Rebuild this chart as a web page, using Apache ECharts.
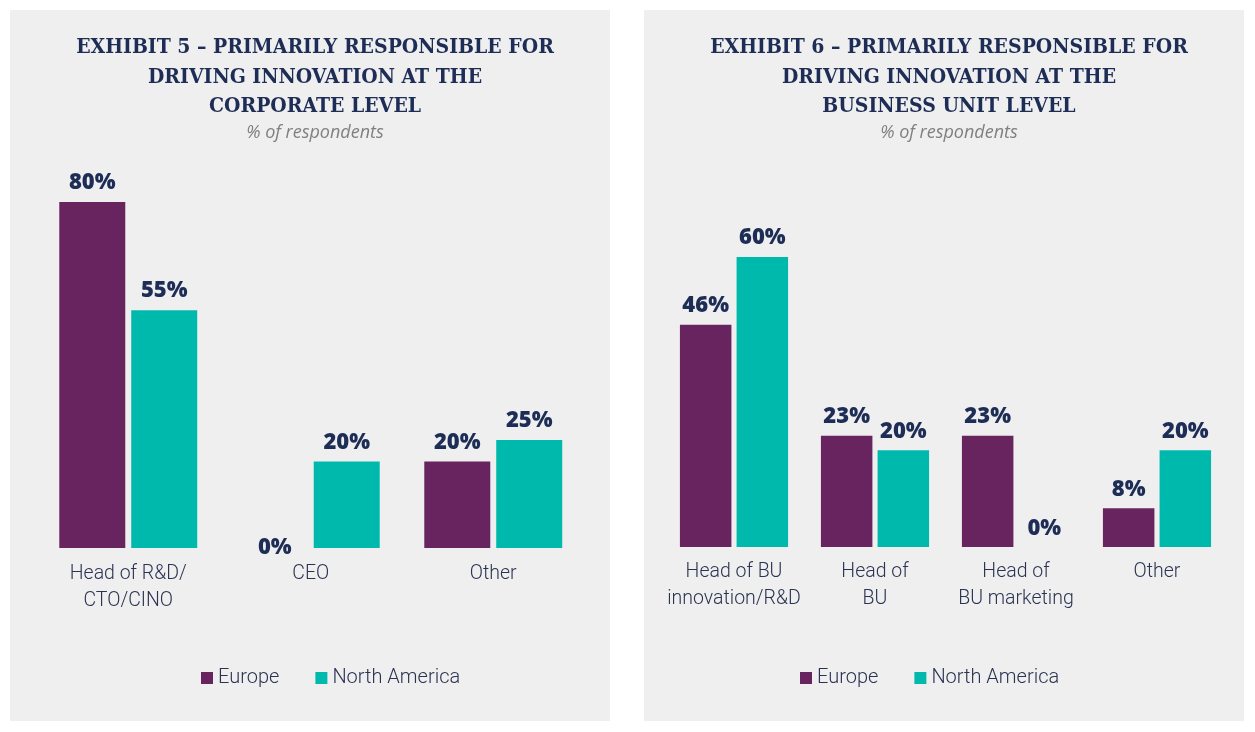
<!DOCTYPE html>
<html><head><meta charset="utf-8">
<script src="https://cdn.jsdelivr.net/npm/echarts@6/dist/echarts.min.js"></script>
<style>html,body{margin:0;padding:0;background:#fff}#c{width:1255px;height:732px}</style>
</head><body><div id="c"></div>
<script>
const seriesNames = ['Europe', 'North America'];
const catsCorp = ['Head of R&D/\nCTO/CINO', 'CEO', 'Other'];
const europeCorp = [80, 0, 20];
const naCorp = [55, 20, 25];
const catsBU = ['Head of BU\ninnovation/R&D', 'Head of\nBU', 'Head of\nBU marketing', 'Other'];
const europeBU = [46, 23, 23, 8];
const naBU = [60, 20, 0, 20];
const titleCorp = 'EXHIBIT 5 – PRIMARILY RESPONSIBLE FOR\nDRIVING INNOVATION AT THE\nCORPORATE LEVEL';
const titleBU = 'EXHIBIT 6 – PRIMARILY RESPONSIBLE FOR\nDRIVING INNOVATION AT THE\nBUSINESS UNIT LEVEL';
const subtitle = '% of respondents';

const PURPLE = '#68245f', TEAL = '#00b9ad', NAVY = '#1d2d55', BG = '#efefef';
const chart = echarts.init(document.getElementById('c'));
const titleStyle = {fontFamily: '"DejaVu Serif Condensed", "DejaVu Serif", serif', fontWeight: 'bold', fontSize: 21, color: NAVY, lineHeight: 29.5};
const subStyle = {fontFamily: '"Open Sans", sans-serif', fontStyle: 'italic', fontWeight: 'normal', fontSize: 18, color: '#808080'};
const labelStyle = {show: true, position: 'top', distance: 8, formatter: '{c}%', fontFamily: '"Open Sans", Lato, sans-serif', fontWeight: 800, fontSize: 22, color: NAVY};
const axisLab = {interval: 0, fontFamily: 'Roboto, sans-serif', fontWeight: 300, fontSize: 19.5, color: '#2b3352', lineHeight: 27};
const legendText = {fontFamily: 'Roboto, sans-serif', fontWeight: 300, fontSize: 20, color: '#2b3352'};

function xAx(grid, data, margin) {
  return {type: 'category', gridIndex: grid, data: data, axisLine: {show: false}, axisTick: {show: false},
    axisLabel: Object.assign({margin: margin}, axisLab)};
}
function yAx(grid) {
  return {type: 'value', gridIndex: grid, min: 0, max: 100, show: false, splitLine: {show: false}};
}
function bar(name, data, idx, color, bw, gap, zeroOffset) {
  const items = data.map(v => v === 0 ? {value: v, label: {offset: [0, zeroOffset]}} : v);
  return {type: 'bar', name: name, xAxisIndex: idx, yAxisIndex: idx, data: items, barWidth: bw, barGap: gap,
    itemStyle: {color: color}, label: labelStyle, animation: false};
}
chart.setOption({
  backgroundColor: '#ffffff',
  animation: false,
  graphic: [
    {type: 'rect', shape: {x: 10, y: 10, width: 600, height: 711}, style: {fill: BG}, z: -10},
    {type: 'rect', shape: {x: 644, y: 10, width: 600, height: 711}, style: {fill: BG}, z: -10}
  ],
  title: [
    {text: titleCorp, left: 310, top: 28, textAlign: 'center', textStyle: titleStyle},
    {text: subtitle, left: 310, top: 119, textAlign: 'center', textStyle: subStyle},
    {text: titleBU, left: 944, top: 28, textAlign: 'center', textStyle: titleStyle},
    {text: subtitle, left: 944, top: 119, textAlign: 'center', textStyle: subStyle}
  ],
  legend: [
    {left: 196, top: 663, itemWidth: 12, itemHeight: 12, itemGap: 36, icon: 'rect', data: seriesNames, textStyle: legendText},
    {left: 795, top: 663, itemWidth: 12, itemHeight: 12, itemGap: 36, icon: 'rect', data: seriesNames, textStyle: legendText}
  ],
  color: [PURPLE, TEAL],
  grid: [
    {left: 37, width: 547.5, top: 115.5, height: 432.5, containLabel: false},
    {left: 663.5, width: 564, top: 63.7, height: 483.3, containLabel: false}
  ],
  xAxis: [xAx(0, catsCorp, 13), xAx(1, catsBU, 12)],
  yAxis: [yAx(0), yAx(1)],
  series: [
    bar('Europe', europeCorp, 0, PURPLE, 66, '9%', 19),
    bar('North America', naCorp, 0, TEAL, 66, '9%', 19),
    bar('Europe', europeBU, 1, PURPLE, 51.5, '10%', 1),
    bar('North America', naBU, 1, TEAL, 51.5, '10%', 1)
  ]
});
</script></body></html>
